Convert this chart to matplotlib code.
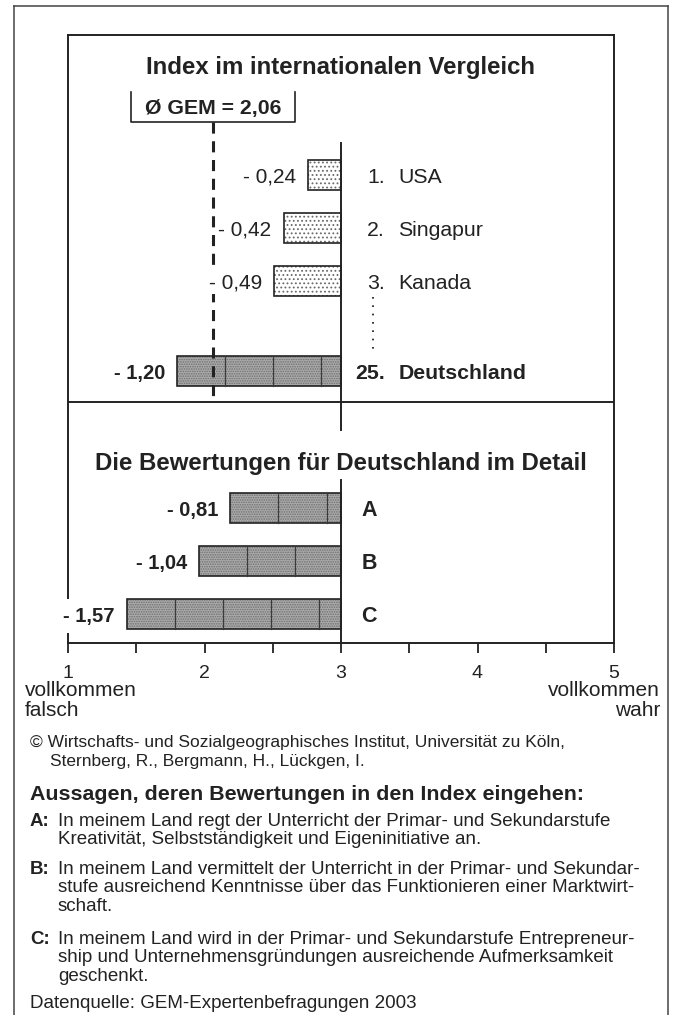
import matplotlib
matplotlib.use('Agg')
import matplotlib.pyplot as plt
from matplotlib.lines import Line2D

plt.rcParams['font.family'] = ['Liberation Sans', 'DejaVu Sans']
plt.rcParams['hatch.linewidth'] = 0.8
plt.rcParams['lines.scale_dashes'] = False

# --- data -------------------------------------------------------------
countries = ['USA', 'Singapur', 'Kanada', 'Deutschland']
ranks = ['1.', '2.', '3.', '25.']
country_diff = [-0.24, -0.42, -0.49, -1.20]   # deviation from scale midpoint
items = ['A', 'B', 'C']
item_diff = [-0.81, -1.04, -1.57]
scale_mid = 3
gem_mean = 2.06
x_ticks = [1, 2, 3, 4, 5]
x_minor = [1.5, 2.5, 3.5, 4.5]

statements = {
    'A': ['In meinem Land regt der Unterricht der Primar- und Sekundarstufe',
          'Kreativität, Selbstständigkeit und Eigeninitiative an.'],
    'B': ['In meinem Land vermittelt der Unterricht in der Primar- und Sekundar-',
          'stufe ausreichend Kenntnisse über das Funktionieren einer Marktwirt-',
          'schaft.'],
    'C': ['In meinem Land wird in der Primar- und Sekundarstufe Entrepreneur-',
          'ship und Unternehmensgründungen ausreichende Aufmerksamkeit',
          'geschenkt.'],
}

# --- layout (pixels from top of figure) ------------------------------
W, H = 677, 1015
country_rows = [175, 228, 281, 371]
item_rows = [508, 561, 614]
bar_h = 30
seg = 0.352          # width of the tiles inside the dark bars
ink = '#222222'


def fx(px):
    return px / W


def fy(py):
    return 1 - py / H


def fmt(v):
    return '- ' + f'{abs(v):.2f}'.replace('.', ',')


fig = plt.figure(figsize=(W / 100, H / 100), dpi=100)
fig.patch.set_facecolor('white')

ax = fig.add_axes([fx(68), fy(643), (614 - 68) / W, (643 - 35) / H])
ax.set_xlim(1, 5)
ax.set_ylim(643, 35)

# light bars (top three countries)
ax.barh(country_rows[:3], country_diff[:3], left=scale_mid, height=bar_h,
        color='white', edgecolor='#6a6a6a', linewidth=0, hatch='....', zorder=2)
ax.barh(country_rows[:3], country_diff[:3], left=scale_mid, height=bar_h,
        fill=False, edgecolor=ink, linewidth=1.2, zorder=3)

# dark bars (Deutschland + detail items)
dark_rows = [country_rows[3]] + item_rows
dark_diff = [country_diff[3]] + item_diff
ax.barh(dark_rows, dark_diff, left=scale_mid, height=bar_h,
        color='#ababab', edgecolor='#6e6e6e', linewidth=0, hatch='.......', zorder=2)
ax.barh(dark_rows, dark_diff, left=scale_mid, height=bar_h,
        fill=False, edgecolor=ink, linewidth=1.2, zorder=3)
for y, d in zip(dark_rows, dark_diff):
    x = scale_mid + d + seg
    while x < scale_mid - 0.02:
        ax.plot([x, x], [y - bar_h / 2, y + bar_h / 2], color='#3a3a3a', lw=0.9, zorder=3)
        x += seg

# value labels
for i, (y, d) in enumerate(zip(country_rows, country_diff)):
    bold = countries[i] == 'Deutschland'
    w = 'bold' if bold else 'normal'
    ax.text(scale_mid + d - 0.09, y, fmt(d), ha='right', va='center_baseline',
            fontsize=14.5 if bold else 15, fontweight=w, color=ink, zorder=5,
            bbox=dict(boxstyle='square,pad=0.05', fc='white', ec='none'))
    ax.text(3.32, y, ranks[i], ha='right', va='center_baseline', fontsize=15.3,
            fontweight=w, color=ink)
    ax.text(3.42, y, countries[i], ha='left', va='center_baseline', fontsize=15.3,
            fontweight=w, color=ink)

for y, d, name in zip(item_rows, item_diff, items):
    ax.text(scale_mid + d - 0.09, y, fmt(d), ha='right', va='center_baseline',
            fontsize=14.5, fontweight='bold', color=ink, zorder=5,
            bbox=dict(boxstyle='square,pad=0.35', fc='white', ec='none'))
    ax.text(3.15, y, name, ha='left', va='center_baseline', fontsize=15.5,
            fontweight='bold', color=ink)

# reference lines
ax.plot([gem_mean, gem_mean], [122, 402], color=ink, lw=2.2, dashes=(8, 5.5), zorder=4)
ax.plot([scale_mid, scale_mid], [143, 430], color=ink, lw=1.4, zorder=4)
ax.plot([scale_mid, scale_mid], [480, 643], color=ink, lw=1.4, zorder=4)
ax.plot([3.235, 3.235], [297, 353], color=ink, lw=1.3, dashes=(1.2, 4.8))
ax.axhline(402, color=ink, lw=1.4)

# GEM average bracket
hw = 0.6
ax.plot([gem_mean - hw, gem_mean - hw, gem_mean + hw, gem_mean + hw],
        [92, 122, 122, 92], color=ink, lw=1.2)
ax.text(gem_mean, 106, 'Ø GEM = ' + f'{gem_mean:.2f}'.replace('.', ','),
        ha='center', va='center_baseline', fontsize=15.3, fontweight='bold', color=ink)

# section titles
ax.text(3, 65, 'Index im internationalen Vergleich', ha='center', va='center_baseline',
        fontsize=17.3, fontweight='bold', color=ink)
ax.text(3, 461, 'Die Bewertungen für Deutschland im Detail', ha='center',
        va='center_baseline', fontsize=17.3, fontweight='bold', color=ink)

# axes styling
ax.set_xticks(x_ticks)
ax.set_xticklabels([str(t) for t in x_ticks])
ax.set_xticks(x_minor, minor=True)
ax.set_yticks([])
ax.tick_params(axis='x', which='both', direction='out', length=7, width=1.3,
               color=ink, labelsize=14, labelcolor=ink, pad=8.5)
for s in ax.spines.values():
    s.set_linewidth(1.4)
    s.set_color(ink)

# scale end labels
fig.text(fx(25), fy(689), 'vollkommen', ha='left', va='center_baseline', fontsize=15, color=ink)
fig.text(fx(25), fy(708), 'falsch', ha='left', va='center_baseline', fontsize=15, color=ink)
fig.text(fx(660), fy(689), 'vollkommen', ha='right', va='center_baseline', fontsize=15, color=ink)
fig.text(fx(660), fy(708), 'wahr', ha='right', va='center_baseline', fontsize=15, color=ink)

# notes below the chart
fig.text(fx(30), fy(741), '© Wirtschafts- und Sozialgeographisches Institut, Universität zu Köln,',
         va='center_baseline', fontsize=12.5, color=ink)
fig.text(fx(50), fy(760), 'Sternberg, R., Bergmann, H., Lückgen, I.',
         va='center_baseline', fontsize=12.5, color=ink)
fig.text(fx(30), fy(792), 'Aussagen, deren Bewertungen in den Index eingehen:',
         va='center_baseline', fontsize=15.4, fontweight='bold', color=ink)

block_top = {'A': 819, 'B': 867, 'C': 937}
for key, lines in statements.items():
    y0 = block_top[key]
    fig.text(fx(30), fy(y0), key + ':', va='center_baseline', fontsize=13.5,
             fontweight='bold', color=ink)
    for k, line in enumerate(lines):
        fig.text(fx(58), fy(y0 + 18.7 * k), line, va='center_baseline', fontsize=13.5, color=ink)

fig.text(fx(30), fy(1002), 'Datenquelle: GEM-Expertenbefragungen 2003',
         va='center_baseline', fontsize=13.5, color=ink)

# outer frame
frame_kw = dict(transform=fig.transFigure, color='#444444', lw=1.1)
fig.add_artist(Line2D([fx(14), fx(14)], [fy(1015), fy(6)], **frame_kw))
fig.add_artist(Line2D([fx(668), fx(668)], [fy(1015), fy(6)], **frame_kw))
fig.add_artist(Line2D([fx(14), fx(668)], [fy(6), fy(6)], **frame_kw))

fig.savefig('out.png', dpi=100)
